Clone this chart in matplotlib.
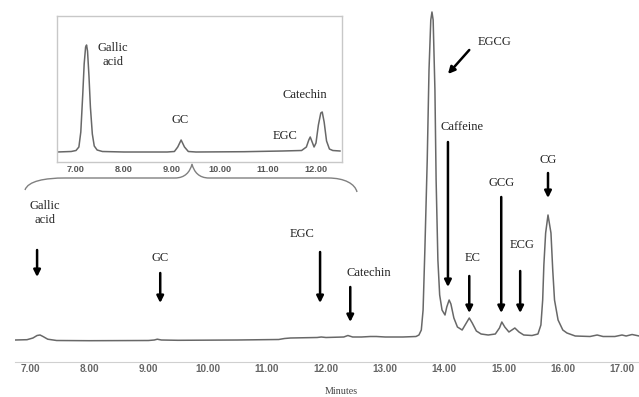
import matplotlib

matplotlib.use("Agg")

import matplotlib.pyplot as plt
from matplotlib.path import Path
from matplotlib.patches import PathPatch

# Main chromatogram trace (retention time in min, detector signal in arbitrary units)
main_time = [
    6.75, 6.95, 7.05, 7.12, 7.17, 7.22, 7.30, 7.45, 8.00, 9.00, 9.10, 9.15, 9.22,
    9.50, 10.50, 11.20, 11.30, 11.40, 11.85, 11.92, 12.00, 12.30, 12.37, 12.45,
    12.60, 12.75, 12.85, 13.00, 13.30, 13.52, 13.57, 13.61, 13.64, 13.67, 13.71,
    13.74, 13.77, 13.79, 13.81, 13.84, 13.86, 13.89, 13.92, 13.96, 14.01, 14.04,
    14.08, 14.11, 14.16, 14.22, 14.30, 14.36, 14.42, 14.47, 14.54, 14.62, 14.74,
    14.86, 14.93, 14.97, 15.02, 15.09, 15.14, 15.19, 15.26, 15.34, 15.48, 15.58,
    15.63, 15.66, 15.68, 15.71, 15.75, 15.80, 15.83, 15.86, 15.92, 16.00, 16.07,
    16.21, 16.46, 16.58, 16.68, 16.88, 17.00, 17.07, 17.17, 17.29,
]
main_signal = [
    0.0, 0.3, 2.0, 4.5, 5.0, 3.5, 0.8, -0.5, -0.7, -0.5, 0.0, 0.8, 0.0,
    -0.3, 0.0, 0.5, 1.5, 2.0, 2.5, 3.0, 2.5, 3.0, 4.5, 3.0,
    3.0, 3.5, 3.5, 3.0, 3.0, 3.5, 5.0, 10.0, 30.0, 90.0, 180.0,
    270.0, 320.0, 328.0, 320.0, 250.0, 160.0, 80.0, 45.0, 30.0, 25.0, 33.0,
    40.0, 36.0, 22.0, 13.0, 10.0, 16.0, 22.0, 17.0, 9.0, 6.0, 5.0,
    6.0, 12.0, 18.0, 13.0, 8.0, 10.0, 12.0, 8.0, 5.0, 4.5, 6.0,
    15.0, 40.0, 75.0, 107.0, 125.0, 107.0, 70.0, 40.0, 20.0, 10.0, 7.0,
    4.0, 3.5, 5.0, 3.5, 3.5, 5.0, 4.0, 5.5, 4.0,
]

# Inset: zoom of the 7-12.5 min region
inset_time = [
    6.60, 6.90, 7.00, 7.06, 7.10, 7.14, 7.17, 7.20, 7.22, 7.24, 7.27, 7.30,
    7.34, 7.38, 7.44, 7.55, 8.00, 8.90, 9.05, 9.12, 9.19, 9.26, 9.34, 9.50,
    10.50, 11.30, 11.70, 11.80, 11.85, 11.88, 11.92, 11.96, 12.00, 12.05,
    12.10, 12.13, 12.17, 12.22, 12.28, 12.35, 12.50,
]
inset_signal = [
    0.0, 0.5, 1.5, 5.0, 20.0, 57.0, 88.0, 105.0, 107.0, 101.0, 76.0, 45.0,
    18.0, 6.0, 2.0, 0.5, 0.0, 0.0, 0.5, 5.0, 12.0, 5.0, 0.5, 0.0,
    0.3, 1.0, 1.5, 5.0, 12.0, 15.0, 10.0, 5.0, 9.0, 27.0,
    39.0, 40.0, 30.0, 11.0, 3.0, 1.5, 1.0,
]

ticks = [7, 8, 9, 10, 11, 12, 13, 14, 15, 16, 17]
tick_labels = [f"{t:.2f}" for t in ticks]
inset_ticks = ticks[:6]

# compound labels (text, time, height) and arrows (start, end)
main_labels = [
    ("Gallic\nacid", 7.25, 127),
    ("GC", 9.20, 82),
    ("EGC", 11.59, 106),
    ("Catechin", 12.73, 67),
    ("EGCG", 14.85, 298),
    ("Caffeine", 14.30, 213),
    ("EC", 14.47, 82),
    ("GCG", 14.97, 157),
    ("ECG", 15.31, 95),
    ("CG", 15.75, 180),
]
main_arrows = [
    ((7.12, 90), (7.12, 63)),
    ((9.20, 67), (9.20, 37)),
    ((11.90, 88), (11.90, 37)),
    ((12.41, 53), (12.41, 18)),
    ((14.42, 290), (14.06, 266)),
    ((14.06, 198), (14.06, 53)),
    ((14.42, 64), (14.42, 27)),
    ((14.96, 143), (14.96, 27)),
    ((15.28, 69), (15.28, 27)),
    ((15.75, 167), (15.75, 142)),
]
inset_labels = [
    ("Gallic\nacid", 7.77, 97),
    ("GC", 9.17, 32),
    ("EGC", 11.35, 16),
    ("Catechin", 11.77, 57),
]

W, H = 639, 397
SERIF = "Liberation Serif"
TRACE = "#686868"
LABEL_SIZE = 9

fig = plt.figure(figsize=(W / 100, H / 100), dpi=100)

# main chromatogram
ax = fig.add_axes([15 / W, 1 - 362 / H, 624 / W, 357 / H])
ax.plot(main_time, main_signal, color=TRACE, lw=1.1)
ax.set_xlim(6.747, 17.287)
ax.set_ylim(-22, 335)
for side in ("top", "right", "left"):
    ax.spines[side].set_visible(False)
ax.spines["bottom"].set_color("#d0d0d0")
ax.spines["bottom"].set_linewidth(0.8)
ax.set_yticks([])
ax.set_xticks(ticks)
ax.set_xticklabels(tick_labels, fontsize=7.2, fontweight="bold",
                   color="#666666", family="Liberation Sans")
ax.tick_params(axis="x", length=0, pad=1.5)
ax.patch.set_alpha(0)

for text, x, y in main_labels:
    ax.text(x, y, text, ha="center", va="center", fontsize=LABEL_SIZE,
            family=SERIF, color="#222222", linespacing=1.3)
for start, end in main_arrows:
    ax.annotate("", xy=end, xytext=start,
                arrowprops=dict(arrowstyle="-|>", color="black", lw=1.8,
                                mutation_scale=10, shrinkA=0, shrinkB=0))

fig.text(341 / W, 1 - 392 / H, "Minutes", ha="center", va="center",
         fontsize=7.2, family=SERIF, color="#444444")

# inset
axi = fig.add_axes([57 / W, 1 - 162 / H, 285 / W, 146 / H])
axi.plot(inset_time, inset_signal, color=TRACE, lw=1.1)
axi.set_xlim(6.604, 12.542)
axi.set_ylim(-10, 136)
for s in axi.spines.values():
    s.set_color("#c8c8c8")
    s.set_linewidth(1.0)
axi.set_yticks([])
axi.set_xticks(inset_ticks)
axi.set_xticklabels(tick_labels[:6], fontsize=6.6, fontweight="bold",
                    color="#555555", family="Liberation Sans")
axi.tick_params(axis="x", length=0, pad=2.5)
for text, x, y in inset_labels:
    axi.text(x, y, text, ha="center", va="center", fontsize=LABEL_SIZE,
             family=SERIF, color="#222222", linespacing=1.3)

# curly brace tying the inset to the main trace
ov = fig.add_axes([0, 0, 1, 1])
ov.set_xlim(0, W)
ov.set_ylim(H, 0)
ov.axis("off")
ov.patch.set_alpha(0)
verts = [
    (25, 190), (28, 181), (45, 178), (65, 178),
    (175, 178),
    (185, 178), (190, 172), (192, 164),
    (194, 172), (199, 178), (209, 178),
    (328, 178),
    (345, 178), (355, 184), (357, 192),
]
codes = [Path.MOVETO, Path.CURVE4, Path.CURVE4, Path.CURVE4,
         Path.LINETO,
         Path.CURVE4, Path.CURVE4, Path.CURVE4,
         Path.CURVE4, Path.CURVE4, Path.CURVE4,
         Path.LINETO,
         Path.CURVE4, Path.CURVE4, Path.CURVE4]
ov.add_patch(PathPatch(Path(verts, codes), fill=False, ec="#808080", lw=1.0))

fig.savefig("out.png", dpi=100)
